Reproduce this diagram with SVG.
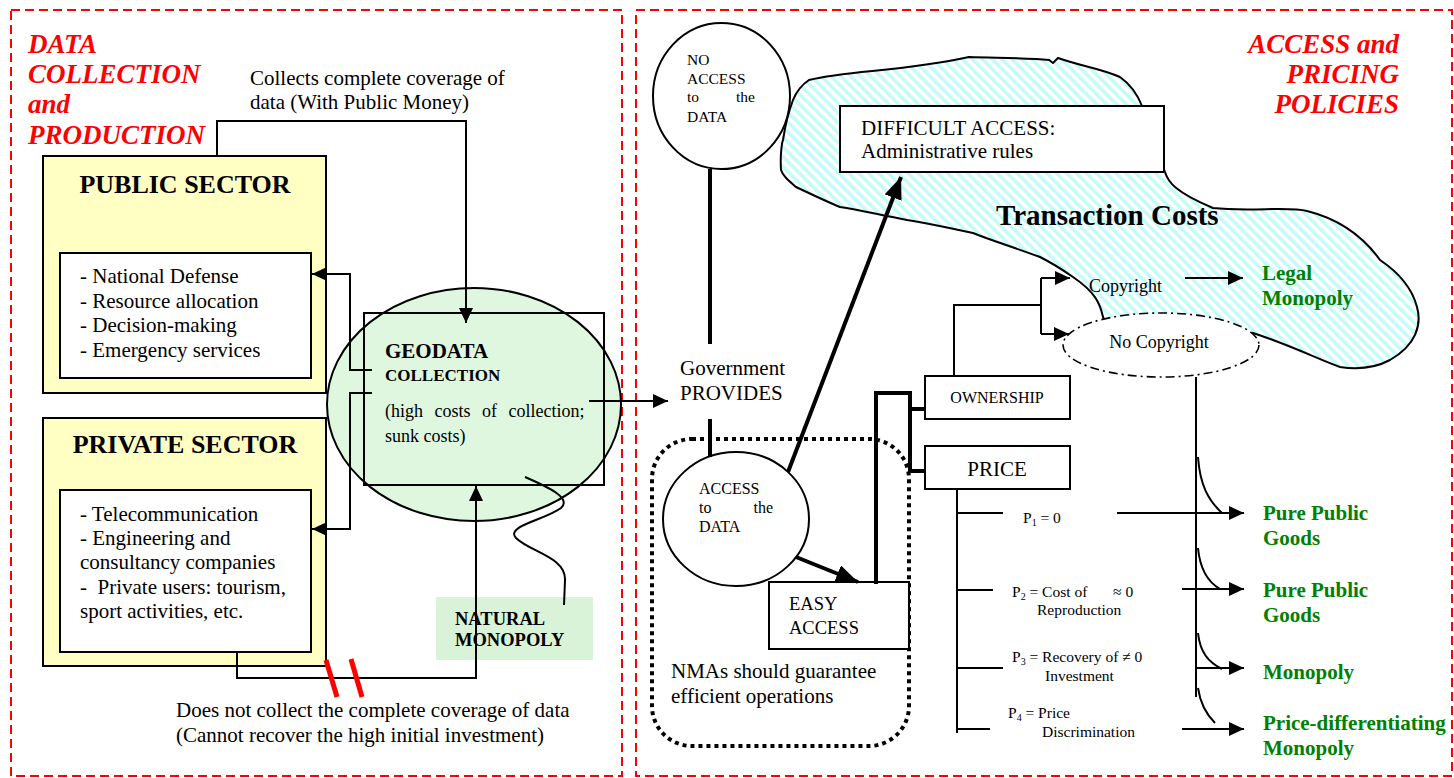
<svg xmlns="http://www.w3.org/2000/svg" width="1454" height="778" viewBox="0 0 1454 778">
<style>
text{font-family:"Liberation Serif","Times New Roman",serif;fill:#000}
.t21{font-size:21px}
.red{fill:#FF0000;font-weight:bold;font-style:italic;font-size:27px}
.grn{fill:#008000;font-weight:bold;font-size:21px}
.b{font-weight:bold}
.frame{fill:none;stroke:#FF0000;stroke-width:2;stroke-dasharray:9 5}
.ln{fill:none;stroke:#000;stroke-width:2}
.thk{fill:none;stroke:#000;stroke-width:4}
.box{fill:#fff;stroke:#000;stroke-width:2}
.p{font-size:15.5px}
</style>
<defs>
<marker id="arr" markerUnits="userSpaceOnUse" markerWidth="16" markerHeight="14" refX="15" refY="7" orient="auto"><path d="M0,0 L15,7 L0,14 z" fill="#000"/></marker>
<marker id="arrBig" markerUnits="userSpaceOnUse" markerWidth="24" markerHeight="18" refX="22" refY="9" orient="auto"><path d="M0,0 L22,9 L0,18 z" fill="#000"/></marker>
<pattern id="hatch" width="7" height="7" patternUnits="userSpaceOnUse" patternTransform="rotate(-45)"><rect width="7" height="7" fill="#fff"/><rect width="3.5" height="7" fill="#C4FAFA"/></pattern>
</defs>
<rect width="1454" height="778" fill="#fff"/>

<g id="frames">
<rect class="frame" x="11" y="10" width="611" height="766"/>
<rect class="frame" x="636" y="10" width="816" height="766"/>
</g>

<g id="title-left">
<text class="red" x="28" y="53">DATA</text>
<text class="red" x="28" y="83">COLLECTION</text>
<text class="red" x="28" y="113">and</text>
<text class="red" x="28" y="144">PRODUCTION</text>
</g>
<g id="title-right">
<text class="red" x="1399" y="53" text-anchor="end">ACCESS and</text>
<text class="red" x="1399" y="83" text-anchor="end">PRICING</text>
<text class="red" x="1399" y="113" text-anchor="end">POLICIES</text>
</g>

<g id="transaction-costs">
<path d="M809,80 C850,70 900,72 969,57 C1000,58 1030,58 1049,60 L1053,63 L1058,58 C1080,66 1100,68 1120,77 C1130,84 1138,96 1142,106 L1165,172 C1168,182 1175,192 1213,208 C1250,212 1290,206 1307,211 C1335,218 1360,232 1380,260 C1398,272 1412,288 1417,307 C1422,325 1416,345 1390,360 C1375,368 1360,370 1340,367 C1320,360 1290,345 1253,333 L1250,338 L1112,338 L1103,317 C1100,303 1095,292 1073,277 C1060,268 1050,262 1040,257 C1010,246 990,240 973,233 C940,226 920,222 907,220 C880,215 860,210 840,207 C830,203 815,196 796,187 C788,180 783,176 781,170 C780,155 782,142 783,140 C786,120 790,108 793,100 C797,90 803,84 809,80 Z" fill="url(#hatch)" stroke="#000" stroke-width="2"/>
<text class="b" x="996" y="225" font-size="29">Transaction Costs</text>
</g>

<g id="public-sector">
<rect x="43" y="156" width="283" height="237" fill="#FFFFC4" stroke="#000" stroke-width="2"/>
<text class="b" x="185" y="193" font-size="26" text-anchor="middle">PUBLIC SECTOR</text>
<rect class="box" x="60" y="253" width="251" height="125"/>
<text class="t21" x="80" y="283">- National Defense</text>
<text class="t21" x="80" y="308">- Resource allocation</text>
<text class="t21" x="80" y="332">- Decision-making</text>
<text class="t21" x="80" y="357">- Emergency services</text>
</g>

<g id="private-sector">
<rect x="43" y="418" width="283" height="248" fill="#FFFFC4" stroke="#000" stroke-width="2"/>
<text class="b" x="185" y="453" font-size="26" text-anchor="middle">PRIVATE SECTOR</text>
<rect class="box" x="60" y="490" width="251" height="162"/>
<text class="t21" x="80" y="521">- Telecommunication</text>
<text class="t21" x="80" y="545">- Engineering and</text>
<text class="t21" x="80" y="569">consultancy companies</text>
<text class="t21" x="80" y="594" xml:space="preserve">-  Private users: tourism,</text>
<text class="t21" x="80" y="618">sport activities, etc.</text>
</g>

<g id="geodata">
<ellipse cx="474" cy="404.5" rx="147" ry="116.5" fill="#DFF7DF" stroke="#000" stroke-width="2"/>
<rect x="364" y="313" width="240" height="172" fill="none" stroke="#000" stroke-width="2"/>
<text class="b" x="385" y="358" font-size="21">GEODATA</text>
<text class="b" x="385" y="381" font-size="17">COLLECTION</text>
<text x="385" y="417" font-size="18" word-spacing="7">(high costs of collection;</text>
<text x="385" y="442" font-size="18">sunk costs)</text>
</g>

<g id="natural-monopoly">
<rect x="436" y="597" width="157" height="63" fill="#D8F3D8"/>
<text class="b" x="455" y="625" font-size="18.5">NATURAL</text>
<text class="b" x="455" y="646" font-size="18.5">MONOPOLY</text>
</g>

<g id="label-collects">
<text class="t21" x="250" y="85">Collects complete coverage of</text>
<text class="t21" x="250" y="109">data (With Public Money)</text>
</g>
<g id="label-notcollect">
<text class="t21" x="176" y="717">Does not collect the complete coverage of data</text>
<text class="t21" x="176" y="742">(Cannot recover the high initial investment)</text>
</g>

<g id="no-access">
<ellipse cx="721.5" cy="96" rx="68.5" ry="73" fill="#fff" stroke="#000" stroke-width="2"/>
<text x="687" y="65" font-size="15.5">NO</text>
<text x="687" y="84" font-size="15.5">ACCESS</text>
<text x="687" y="102" font-size="15.5">to</text>
<text x="755" y="102" font-size="15.5" text-anchor="end">the</text>
<text x="687" y="122" font-size="15.5">DATA</text>
</g>

<g id="difficult-access">
<rect class="box" x="840" y="106" width="324" height="66"/>
<text class="t21" x="861" y="135">DIFFICULT ACCESS:</text>
<text class="t21" x="861" y="158">Administrative rules</text>
</g>

<g id="government">
<text class="t21" x="680" y="375">Government</text>
<text class="t21" x="680" y="400">PROVIDES</text>
</g>

<g id="nmas-group">
<rect x="652" y="439" width="257" height="307" rx="40" ry="40" fill="none" stroke="#000" stroke-width="4" stroke-dasharray="4 4"/>
<text class="t21" x="671" y="678">NMAs should guarantee</text>
<text class="t21" x="671" y="703">efficient operations</text>
</g>

<g id="access-data">
<ellipse cx="736" cy="519" rx="73" ry="67" fill="#fff" stroke="#000" stroke-width="2"/>
<text x="699" y="494" font-size="16">ACCESS</text>
<text x="699" y="513" font-size="16">to</text>
<text x="773" y="513" font-size="16" text-anchor="end">the</text>
<text x="699" y="532" font-size="16">DATA</text>
</g>

<g id="easy-access">
<rect class="box" x="769" y="582" width="140" height="67"/>
<text x="789" y="610" font-size="18.5">EASY</text>
<text x="789" y="634" font-size="18.5">ACCESS</text>
</g>

<g id="ownership">
<rect class="box" x="925" y="376" width="145" height="43"/>
<text x="997" y="403" font-size="16" text-anchor="middle">OWNERSHIP</text>
</g>
<g id="price">
<rect class="box" x="925" y="446" width="145" height="43"/>
<text x="997" y="476" font-size="21" text-anchor="middle">PRICE</text>
</g>

<g id="copyright">
<text x="1089" y="292" font-size="18">Copyright</text>
</g>
<g id="no-copyright">
<ellipse cx="1161" cy="345" rx="98" ry="32" fill="#fff" stroke="#000" stroke-width="1.6" stroke-dasharray="9 4 2 4"/>
<text x="1159" y="348" font-size="18" text-anchor="middle">No Copyright</text>
</g>

<g id="outcomes">
<text class="grn" x="1262" y="280">Legal</text>
<text class="grn" x="1262" y="305">Monopoly</text>
<text class="grn" x="1263" y="520">Pure Public</text>
<text class="grn" x="1263" y="545">Goods</text>
<text class="grn" x="1263" y="597">Pure Public</text>
<text class="grn" x="1263" y="622">Goods</text>
<text class="grn" x="1263" y="679">Monopoly</text>
<text class="grn" x="1263" y="730">Price-differentiating</text>
<text class="grn" x="1263" y="755">Monopoly</text>
</g>

<g id="price-labels">
<text class="p" x="1023" y="523">P<tspan font-size="10" dy="3">1</tspan><tspan dy="-3"> = 0</tspan></text>
<text class="p" x="1012" y="597">P<tspan font-size="10" dy="3">2</tspan><tspan dy="-3"> = Cost of</tspan></text>
<text class="p" x="1113" y="597">≈ 0</text>
<text class="p" x="1037" y="615">Reproduction</text>
<text class="p" x="1012" y="662">P<tspan font-size="10" dy="3">3</tspan><tspan dy="-3"> = Recovery of ≠ 0</tspan></text>
<text class="p" x="1045" y="681">Investment</text>
<text class="p" x="1008" y="718">P<tspan font-size="10" dy="3">4</tspan><tspan dy="-3"> = Price</tspan></text>
<text class="p" x="1042" y="737">Discrimination</text>
</g>

<g id="connectors">
<path class="ln" d="M217,156 V121 H466 V323" marker-end="url(#arr)"/>
<path class="ln" d="M372,370 H350 V274 H312" marker-end="url(#arr)"/>
<path class="ln" d="M372,393 H350 V529 H312" marker-end="url(#arr)"/>
<path class="ln" d="M237,652 V678 H476 V486" marker-end="url(#arr)"/>
<path class="ln" d="M589,401 H668" marker-end="url(#arr)"/>
<path class="ln" d="M525,477 C548,487 572,498 561,508 C545,520 505,526 516,538 C530,552 566,557 565,580 L564,605" stroke-width="1.6"/>
<line x1="326" y1="660" x2="337" y2="697" stroke="#FF0000" stroke-width="5"/>
<line x1="351" y1="659" x2="362" y2="697" stroke="#FF0000" stroke-width="5"/>
<path class="thk" d="M710,169 V344"/>
<path class="thk" d="M710,419 V457"/>
<path class="thk" d="M788,472 L901,177" marker-end="url(#arrBig)"/>
<path class="thk" d="M796,557 L858,582" marker-end="url(#arrBig)"/>
<path class="thk" d="M876,584 V393 H910 V472"/>
<path class="thk" d="M910,409 H925 M910,471 H925"/>
<path class="ln" d="M954,376 V305 H1041"/>
<path class="ln" d="M1041,278 V334"/>
<path class="ln" d="M1041,278 H1070" marker-end="url(#arr)"/>
<path class="ln" d="M1041,334 H1069" marker-end="url(#arr)"/>
<path class="ln" d="M1185,278 H1243" marker-end="url(#arr)"/>
<path class="ln" d="M1196,377 V697"/>
<path class="ln" d="M957,489 V733"/>
<path class="ln" d="M957,513 H1003 M957,590 H993 M957,668 H1003 M957,729 H990"/>
<path class="ln" d="M1117,513 H1244" marker-end="url(#arr)"/>
<path class="ln" d="M1182,589 H1244" marker-end="url(#arr)"/>
<path class="ln" d="M1197,668 H1244" marker-end="url(#arr)"/>
<path class="ln" d="M1182,729 H1244" marker-end="url(#arr)"/>
<path class="ln" d="M1198,457 C1200,485 1208,500 1222,513"/>
<path class="ln" d="M1198,548 C1200,570 1208,582 1220,589"/>
<path class="ln" d="M1198,633 C1200,652 1208,662 1222,669"/>
<path class="ln" d="M1198,688 C1200,702 1206,714 1215,723"/>
</g>
</svg>
